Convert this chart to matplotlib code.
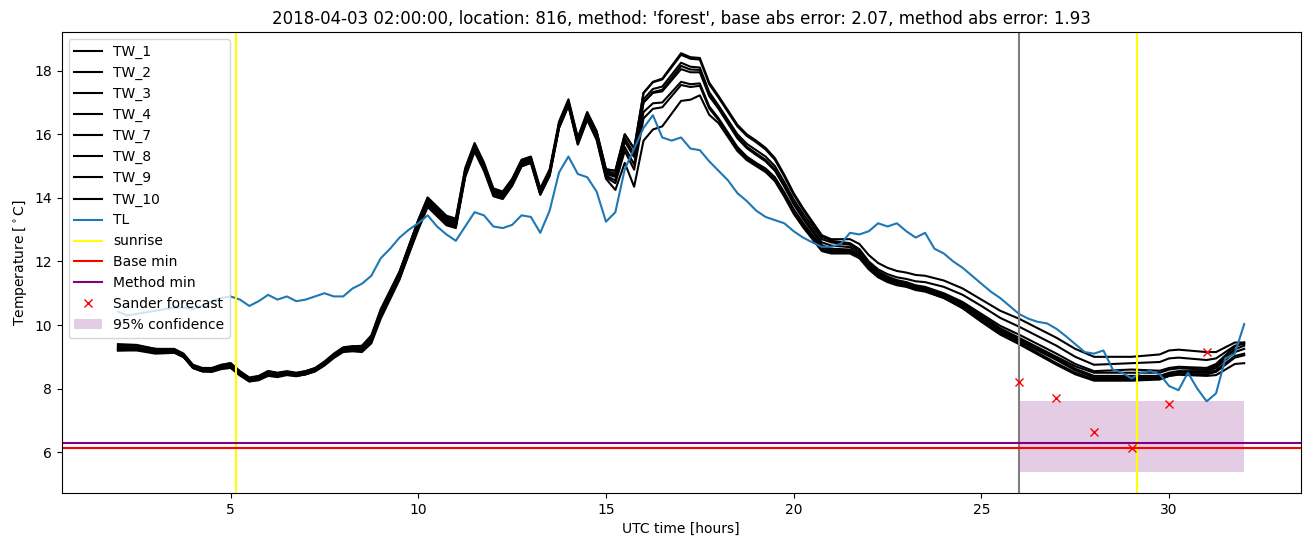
import numpy as np
import matplotlib
matplotlib.use('Agg')
import matplotlib.pyplot as plt

# time axis (hours UTC), 15 min steps
t = np.arange(2, 32.01, 0.25)
hours = np.arange(2, 33)

# centre of the TW bundle
tw_centre = [9.3, 9.3, 9.3, 9.25, 9.2, 9.2, 9.2, 9.05,
             8.7, 8.6, 8.6, 8.7, 8.75, 8.5, 8.3, 8.35,
             8.5, 8.45, 8.5, 8.45, 8.5, 8.6, 8.8, 9.05,
             9.25, 9.3, 9.3, 9.6, 10.4, 11.0, 11.6, 12.4,
             13.2, 13.9, 13.6, 13.3, 13.2, 14.8, 15.6, 15.0,
             14.2, 14.1, 14.5, 15.1, 15.2, 14.2, 14.8, 16.3,
             17.0, 15.8, 16.6, 16.0, 14.8, 14.7, 15.8, 15.3,
             17.0, 17.3, 17.35, 17.7, 18.05, 17.95, 17.95, 17.2,
             16.8, 16.35, 15.9, 15.6, 15.4, 15.2, 14.9, 14.4,
             13.85, 13.4, 13.0, 12.6, 12.5, 12.5, 12.5, 12.35,
             12.0, 11.75, 11.6, 11.5, 11.45, 11.35, 11.3, 11.2,
             11.1, 10.95, 10.8, 10.6, 10.4, 10.2, 10.0, 9.85,
             9.7, 9.55, 9.4, 9.25, 9.1, 8.95, 8.8, 8.7,
             8.6, 8.6, 8.6, 8.6, 8.6, 8.6, 8.6, 8.6,
             8.7, 8.75, 8.75, 8.75, 8.75, 8.8, 9.0, 9.2,
             9.25]

# hourly deviation of each sensor from the bundle centre (hours 2..32)
tw_names = ['TW_1', 'TW_2', 'TW_3', 'TW_4', 'TW_7', 'TW_8', 'TW_9', 'TW_10']
tw_dev = {
    'TW_1': [0.1, 0.05, 0.05, 0.05, 0.05, 0.05, 0.05, 0.0, 0.1, 0.15, 0.1, 0.1, 0.1, 0.1,
             0.3, 0.5, 0.4, 0.4, 0.3, 0.2, 0.2, 0.2, 0.3, 0.4, 0.5, 0.5, 0.4, 0.4, 0.5, 0.4, 0.2],
    'TW_2': [0.05, 0.05, 0.0, 0.05, 0.0, 0.05, 0.0, 0.05, 0.1, 0.1, 0.05, 0.05, 0.05, 0.1,
             0.3, 0.45, 0.35, 0.35, 0.25, 0.15, 0.0, 0.0, 0.1, 0.2, 0.25, 0.25, 0.15, 0.2, 0.25, 0.15, 0.15],
    'TW_3': [0.0, 0.0, 0.0, 0.0, 0.05, 0.0, 0.0, 0.1, 0.05, 0.05, 0.0, 0.05, 0.0, 0.05,
             0.1, 0.2, 0.1, 0.1, 0.1, 0.1, -0.05, -0.1, -0.1, -0.05, 0.0, 0.0, -0.05, 0.0, -0.05, -0.1, 0.2],
    'TW_4': [-0.05, 0.0, -0.05, 0.0, 0.0, 0.0, -0.05, 0.0, 0.0, 0.0, 0.0, 0.0, 0.0, 0.0,
             0.0, 0.1, 0.05, 0.0, 0.0, 0.0, -0.1, -0.15, -0.15, -0.1, -0.1, -0.1, -0.1, -0.1, -0.1, -0.15, 0.1],
    'TW_7': [-0.1, -0.05, 0.0, -0.05, -0.05, 0.0, 0.0, -0.1, -0.05, -0.05, -0.05, 0.0, -0.05, -0.05,
             0.0, 0.0, 0.0, -0.05, -0.05, -0.1, -0.15, -0.15, -0.15, -0.15, -0.15, -0.15, -0.2, -0.2, -0.2, -0.2, 0.0],
    'TW_8': [0.0, -0.05, -0.05, -0.05, 0.0, -0.05, -0.05, -0.15, -0.1, -0.1, -0.05, -0.05, -0.05, -0.1,
             -0.3, -0.4, -0.3, -0.3, -0.2, -0.15, -0.2, -0.2, -0.2, -0.2, -0.2, -0.2, -0.25, -0.25, -0.25, -0.25, -0.15],
    'TW_9': [-0.05, -0.05, -0.05, -0.1, -0.05, -0.05, -0.1, -0.2, -0.15, -0.1, -0.1, -0.1, -0.1, -0.15,
             -0.5, -0.5, -0.35, -0.35, -0.3, -0.2, -0.2, -0.2, -0.25, -0.25, -0.25, -0.3, -0.3, -0.3, -0.3, -0.3, -0.2],
    'TW_10': [-0.1, -0.1, -0.05, -0.05, -0.1, -0.05, -0.05, -0.05, -0.2, -0.15, -0.15, -0.1, -0.1, -0.2,
              -1.2, -1.0, -0.45, -0.4, -0.35, -0.25, -0.25, -0.25, -0.25, -0.3, -0.3, -0.35, -0.35, -0.35, -0.3, -0.35, -0.45],
}

# air temperature TL
tl = [10.42, 10.3, 10.35, 10.4, 10.45, 10.5, 10.55, 10.55,
      10.5, 10.6, 10.75, 10.85, 10.9, 10.8, 10.6, 10.75,
      10.95, 10.8, 10.9, 10.75, 10.8, 10.9, 11.0, 10.9,
      10.9, 11.15, 11.3, 11.55, 12.1, 12.4, 12.75, 13.0,
      13.2, 13.45, 13.1, 12.85, 12.65, 13.1, 13.55, 13.45,
      13.1, 13.05, 13.15, 13.45, 13.4, 12.9, 13.6, 14.8,
      15.3, 14.75, 14.65, 14.2, 13.25, 13.55, 14.9, 15.55,
      16.2, 16.6, 15.9, 15.8, 15.9, 15.55, 15.5, 15.15,
      14.85, 14.55, 14.15, 13.9, 13.6, 13.4, 13.3, 13.2,
      12.95, 12.75, 12.6, 12.46, 12.46, 12.55, 12.9, 12.85,
      12.95, 13.2, 13.1, 13.2, 12.95, 12.75, 12.9, 12.4,
      12.25, 12.0, 11.8, 11.55, 11.3, 11.05, 10.85, 10.6,
      10.35, 10.2, 10.1, 10.05, 9.88, 9.65, 9.4, 9.15,
      9.1, 9.2, 8.6, 8.5, 8.32, 8.5, 8.55, 8.45,
      8.08, 7.95, 8.5, 8.0, 7.6, 7.85, 8.95, 9.1,
      10.03]

sunrise = [5.15, 29.15]
forecast_start = 26
base_min = 6.14
method_min = 6.28

sander_t = [26, 27, 28, 29, 30, 31]
sander_val = [8.2, 7.72, 6.65, 6.12, 7.51, 9.15]

conf_t = [26, 32]
conf_low = [5.38, 5.38]
conf_high = [7.62, 7.62]

fig = plt.figure(figsize=(13.11, 5.47), dpi=100)
ax = fig.add_axes([0.047, 0.099, 0.945, 0.842])

for name in tw_names:
    line = np.array(tw_centre) + np.interp(t, hours, tw_dev[name])
    ax.plot(t, line, color='black', label=name)

ax.plot(t, tl, color='tab:blue', label='TL')
ax.axvline(sunrise[0], color='yellow', label='sunrise')
ax.axvline(sunrise[1], color='yellow')
ax.axvline(forecast_start, color='grey')
ax.axhline(base_min, color='red', label='Base min')
ax.axhline(method_min, color='purple', label='Method min')
ax.plot(sander_t, sander_val, 'x', color='red', label='Sander forecast')
ax.fill_between(conf_t, conf_low, conf_high, color='purple', alpha=0.2,
                linewidth=0, label='95% confidence')

ax.set_xlabel('UTC time [hours]')
ax.set_ylabel(r'Temperature [$^\circ$C]')
ax.set_title("2018-04-03 02:00:00, location: 816, method: 'forest', "
             "base abs error: 2.07, method abs error: 1.93")
ax.legend(loc='upper left')

fig.savefig('out.png', dpi=100)
